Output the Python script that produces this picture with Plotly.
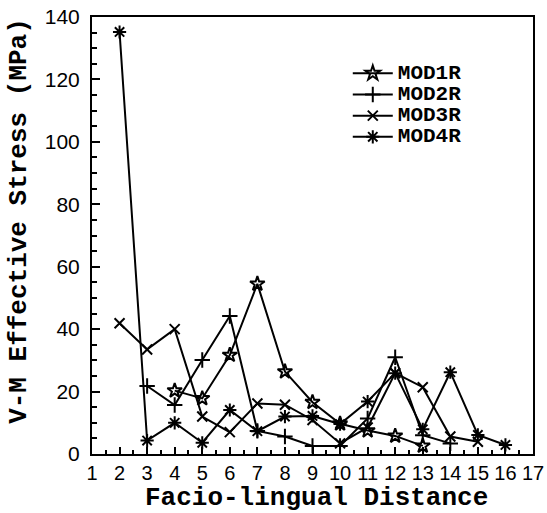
import plotly.graph_objects as go

# Facio-lingual distance positions for each series
x_mod1r = [4, 5, 6, 7, 8, 9, 10, 11, 12, 13]
x_mod2r = [3, 4, 5, 6, 7, 8, 9, 10, 11, 12, 13, 14]
x_mod3r = [2, 3, 4, 5, 6, 7, 8, 9, 10, 11, 12, 13, 14, 15]
x_mod4r = [2, 3, 4, 5, 6, 7, 8, 9, 10, 11, 12, 13, 14, 15, 16]

# V-M effective stress (MPa)
y_mod1r = [20.3, 17.8, 31.7, 54.5, 26.4, 16.6, 9.7, 7.5, 5.8, 2.6]
y_mod2r = [21.8, 15.7, 30.1, 44.2, 7.4, 5.6, 2.6, 2.6, 11.4, 31.0, 6.0, 3.4]
y_mod3r = [41.9, 33.5, 40.0, 12.0, 7.0, 16.2, 15.8, 10.9, 3.4, 8.5, 25.9, 21.4, 5.6, 3.9]
y_mod4r = [135.2, 4.3, 10.0, 3.6, 14.1, 7.3, 12.0, 12.2, 9.6, 16.8, 25.9, 7.9, 26.2, 6.1, 2.9]

names = ["MOD1R", "MOD2R", "MOD3R", "MOD4R"]
x_tick_vals = list(range(1, 18))
y_tick_vals = [0, 20, 40, 60, 80, 100, 120, 140]
x_title = "Facio-lingual Distance"
y_title = "V-M Effective Stress (MPa)"

series = [
    (x_mod1r, y_mod1r, "star-open", 11),
    (x_mod2r, y_mod2r, "cross-thin-open", 11),
    (x_mod3r, y_mod3r, "x-thin-open", 10),
    (x_mod4r, y_mod4r, "asterisk-open", 11),
]

fig = go.Figure()
for name, (xs, ys, sym, sz) in zip(names, series):
    fig.add_trace(go.Scatter(
        x=xs, y=ys, name="<span style='font-size:21px'>" + name + "</span>",
        mode="lines+markers",
        line=dict(color="black", width=2),
        marker=dict(symbol=sym, size=sz, color="black",
                    line=dict(color="black", width=2)),
    ))

mono = "Liberation Mono"
fig.update_layout(
    width=547, height=513,
    margin=dict(l=92, r=14, t=17, b=59, autoexpand=False),
    paper_bgcolor="white", plot_bgcolor="white",
    showlegend=True,
    legend=dict(
        x=0.58, y=0.907, xanchor="left", yanchor="top",
        bgcolor="rgba(0,0,0,0)", borderwidth=0,
        font=dict(family=mono, size=14, color="black", weight="bold"),
        tracegroupgap=0, itemwidth=40,
    ),
    font=dict(family="Liberation Sans", color="black"),
    annotations=[
        dict(text=x_title, xref="paper", yref="paper", x=0.51, y=-0.1,
             xanchor="center", yanchor="middle", showarrow=False,
             font=dict(family=mono, size=26, color="black", weight="bold")),
        dict(text=y_title, xref="paper", yref="paper", x=-0.166, y=0.533,
             xanchor="center", yanchor="middle", showarrow=False, textangle=-90,
             font=dict(family=mono, size=26, color="black", weight="bold")),
    ],
)

fig.update_xaxes(
    range=[1, 17], tickmode="array", tickvals=x_tick_vals,
    ticktext=[str(v) for v in x_tick_vals], automargin=False,
    showgrid=False, zeroline=False,
    showline=True, linecolor="black", linewidth=2, mirror=True,
    ticks="inside", ticklen=7, tickwidth=2, tickcolor="black",
    minor=dict(dtick=0.5, ticks="inside", ticklen=4, tickwidth=1.5, tickcolor="black"),
    tickfont=dict(family="Liberation Sans", size=20, color="black"),
    ticklabelstandoff=0,
)
fig.update_yaxes(
    range=[0, 140], tickmode="array", tickvals=y_tick_vals, automargin=False,
    showgrid=False, zeroline=False,
    showline=True, linecolor="black", linewidth=2, mirror=True,
    ticks="inside", ticklen=8, tickwidth=2, tickcolor="black",
    minor=dict(dtick=5, ticks="inside", ticklen=5, tickwidth=1.5, tickcolor="black"),
    tickfont=dict(family="Liberation Sans", size=21, color="black"),
    ticklabelstandoff=6,
)

fig.write_html("out.html", config={"displayModeBar": False},
               post_script="document.body.style.margin='0';document.body.style.overflow='hidden';")
